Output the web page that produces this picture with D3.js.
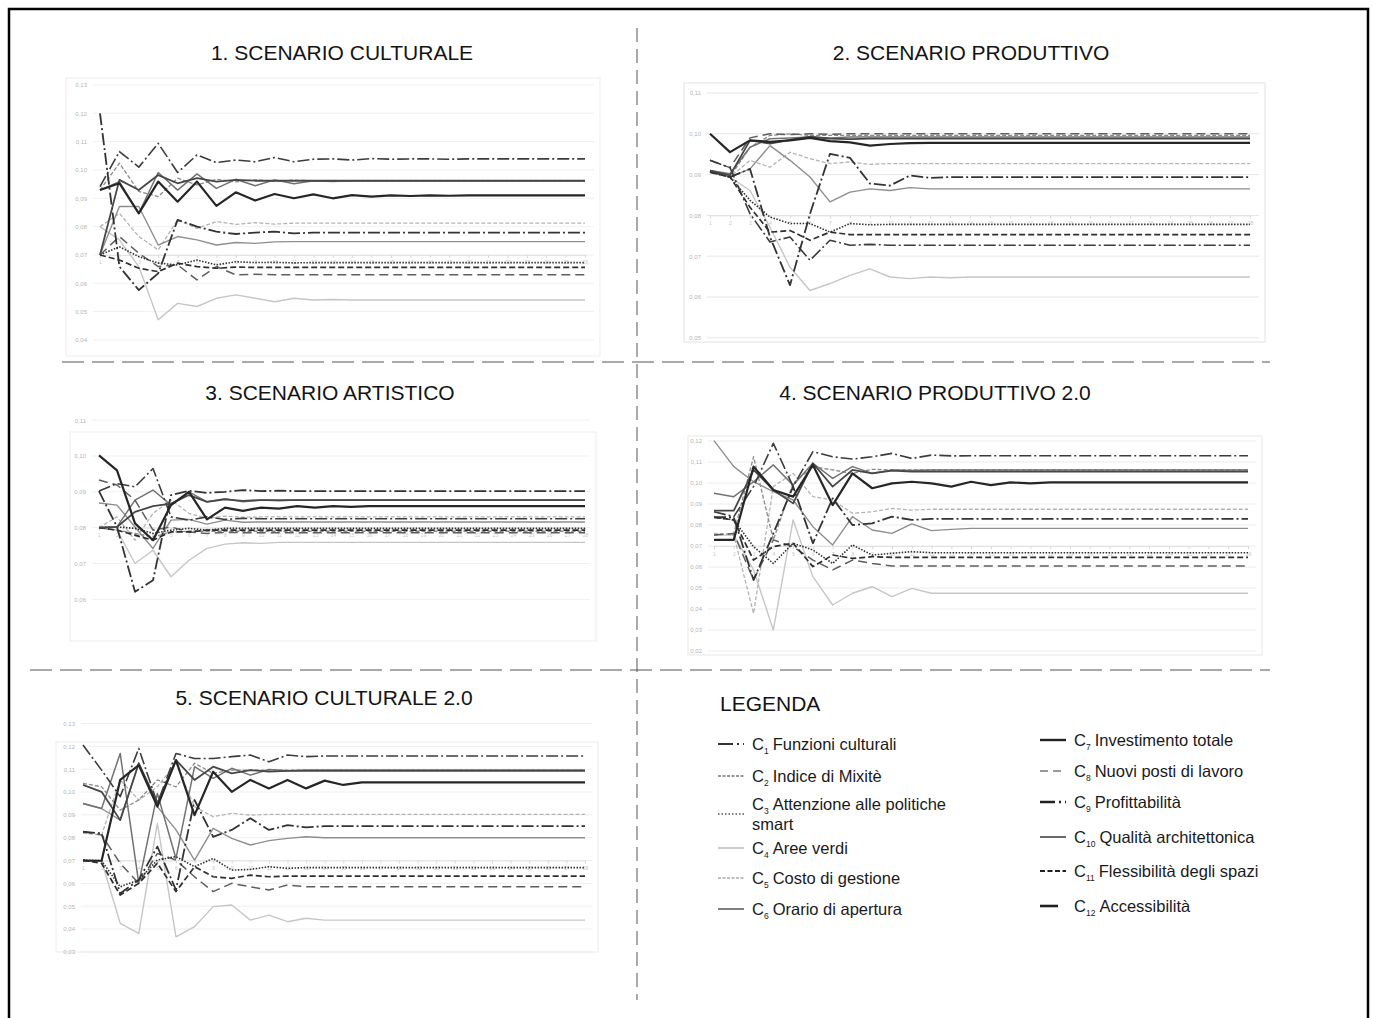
<!DOCTYPE html>
<meta charset="utf-8">
<style>
    body { margin: 0; background: #fff; }
    svg { font-family: "Liberation Sans", Arial, sans-serif; }
    .ylab text { fill: #b5b5b5; font-size: 6px; }
    .ylab path, .ylab line { display: none; }
    .xlab text { fill: #c8c8c8; font-size: 5px; }
    .xlab line { stroke: #d8d8d8; }
    .xlab path { stroke: #e2e2e2; }
</style>
<svg width="1373" height="1018"></svg>
<script src="https://d3js.org/d3.v7.min.js"></script>
<script>
    // criteri (legenda)
    var criteri = ["Funzioni culturali", "Indice di Mixitè", "Attenzione alle politiche smart", "Aree verdi",
        "Costo di gestione", "Orario di apertura", "Investimento totale", "Nuovi posti di lavoro",
        "Profittabilità", "Qualità architettonica", "Flessibilità degli spazi", "Accessibilità"];

    var titoli = ["1. SCENARIO CULTURALE", "2. SCENARIO PRODUTTIVO", "3. SCENARIO ARTISTICO",
        "4. SCENARIO PRODUTTIVO 2.0", "5. SCENARIO CULTURALE 2.0"];

    // valori per iterazione, C1..C12
    var scenario1 = [
        [0.0941, 0.1065, 0.1010, 0.1094, 0.0991, 0.1053, 0.1026, 0.1035, 0.1029, 0.1044, 0.1029, 0.1038, 0.1039, 0.1035, 0.1040, 0.1038, 0.1039, 0.1039, 0.1038, 0.1039, 0.1039, 0.1039, 0.1039, 0.1039, 0.1039, 0.1039],
        [0.0929, 0.1024, 0.0924, 0.0906, 0.0971, 0.0947, 0.0967, 0.0958, 0.0965, 0.0960, 0.0964, 0.0962, 0.0962, 0.0962, 0.0962, 0.0962, 0.0962, 0.0962, 0.0962, 0.0962, 0.0962, 0.0962, 0.0962, 0.0962, 0.0962, 0.0962],
        [0.0700, 0.0729, 0.0694, 0.0671, 0.0665, 0.0682, 0.0665, 0.0676, 0.0673, 0.0674, 0.0672, 0.0673, 0.0673, 0.0673, 0.0673, 0.0673, 0.0673, 0.0673, 0.0673, 0.0673, 0.0673, 0.0673, 0.0673, 0.0673, 0.0673, 0.0673],
        [0.0800, 0.0753, 0.0659, 0.0471, 0.0529, 0.0518, 0.0547, 0.0559, 0.0547, 0.0535, 0.0547, 0.0541, 0.0543, 0.0541, 0.0541, 0.0541, 0.0541, 0.0541, 0.0541, 0.0541, 0.0541, 0.0541, 0.0541, 0.0541, 0.0541, 0.0541],
        [0.0800, 0.0847, 0.0765, 0.0718, 0.0824, 0.0794, 0.0818, 0.0808, 0.0814, 0.0809, 0.0812, 0.0812, 0.0812, 0.0812, 0.0812, 0.0812, 0.0812, 0.0812, 0.0812, 0.0812, 0.0812, 0.0812, 0.0812, 0.0812, 0.0812, 0.0812],
        [0.0700, 0.0871, 0.0871, 0.0735, 0.0765, 0.0753, 0.0735, 0.0744, 0.0741, 0.0746, 0.0747, 0.0747, 0.0747, 0.0747, 0.0747, 0.0747, 0.0747, 0.0747, 0.0747, 0.0747, 0.0747, 0.0747, 0.0747, 0.0747, 0.0747, 0.0747],
        [0.0929, 0.0953, 0.0847, 0.0959, 0.0888, 0.0959, 0.0873, 0.0921, 0.0892, 0.0915, 0.0900, 0.0914, 0.0900, 0.0911, 0.0906, 0.0910, 0.0908, 0.0910, 0.0909, 0.0910, 0.0910, 0.0910, 0.0910, 0.0910, 0.0910, 0.0910],
        [0.0700, 0.0765, 0.0706, 0.0659, 0.0665, 0.0612, 0.0659, 0.0630, 0.0632, 0.0630, 0.0630, 0.0630, 0.0630, 0.0630, 0.0630, 0.0630, 0.0630, 0.0630, 0.0630, 0.0630, 0.0630, 0.0630, 0.0630, 0.0630, 0.0630, 0.0630],
        [0.1200, 0.0659, 0.0576, 0.0635, 0.0824, 0.0800, 0.0782, 0.0774, 0.0779, 0.0782, 0.0776, 0.0779, 0.0779, 0.0779, 0.0779, 0.0779, 0.0779, 0.0779, 0.0779, 0.0779, 0.0779, 0.0779, 0.0779, 0.0779, 0.0779, 0.0779],
        [0.0929, 0.0959, 0.0847, 0.0991, 0.0929, 0.0986, 0.0935, 0.0967, 0.0944, 0.0965, 0.0951, 0.0962, 0.0959, 0.0962, 0.0962, 0.0962, 0.0962, 0.0962, 0.0962, 0.0962, 0.0962, 0.0962, 0.0962, 0.0962, 0.0962, 0.0962],
        [0.0700, 0.0682, 0.0653, 0.0641, 0.0671, 0.0659, 0.0653, 0.0657, 0.0656, 0.0656, 0.0656, 0.0656, 0.0656, 0.0656, 0.0656, 0.0656, 0.0656, 0.0656, 0.0656, 0.0656, 0.0656, 0.0656, 0.0656, 0.0656, 0.0656, 0.0656],
        [0.0700, 0.0965, 0.0929, 0.0982, 0.0953, 0.0971, 0.0959, 0.0965, 0.0962, 0.0962, 0.0962, 0.0962, 0.0962, 0.0962, 0.0962, 0.0962, 0.0962, 0.0962, 0.0962, 0.0962, 0.0962, 0.0962, 0.0962, 0.0962, 0.0962, 0.0962]
    ];

    var scenario2 = [
        [0.0935, 0.0917, 0.0804, 0.0735, 0.0747, 0.0690, 0.0739, 0.0727, 0.0729, 0.0727, 0.0727, 0.0727, 0.0727, 0.0727, 0.0727, 0.0727, 0.0727, 0.0727, 0.0727, 0.0727, 0.0727, 0.0727, 0.0727, 0.0727, 0.0727, 0.0727, 0.0727, 0.0727],
        [0.0906, 0.0894, 0.0967, 0.0996, 0.1000, 0.0996, 0.0996, 0.0996, 0.0996, 0.0996, 0.0996, 0.0996, 0.0996, 0.0996, 0.0996, 0.0996, 0.0996, 0.0996, 0.0996, 0.0996, 0.0996, 0.0996, 0.0996, 0.0996, 0.0996, 0.0996, 0.0996, 0.0996],
        [0.0906, 0.0894, 0.0837, 0.0796, 0.0780, 0.0780, 0.0759, 0.0780, 0.0777, 0.0778, 0.0778, 0.0778, 0.0778, 0.0778, 0.0778, 0.0778, 0.0778, 0.0778, 0.0778, 0.0778, 0.0778, 0.0778, 0.0778, 0.0778, 0.0778, 0.0778, 0.0778, 0.0778],
        [0.0906, 0.0894, 0.0861, 0.0771, 0.0673, 0.0616, 0.0633, 0.0653, 0.0669, 0.0649, 0.0645, 0.0649, 0.0647, 0.0649, 0.0649, 0.0649, 0.0649, 0.0649, 0.0649, 0.0649, 0.0649, 0.0649, 0.0649, 0.0649, 0.0649, 0.0649, 0.0649, 0.0649],
        [0.0906, 0.0894, 0.0935, 0.0918, 0.0955, 0.0939, 0.0927, 0.0931, 0.0925, 0.0927, 0.0927, 0.0927, 0.0927, 0.0927, 0.0927, 0.0927, 0.0927, 0.0927, 0.0927, 0.0927, 0.0927, 0.0927, 0.0927, 0.0927, 0.0927, 0.0927, 0.0927, 0.0927],
        [0.0906, 0.0894, 0.0914, 0.0971, 0.0935, 0.0894, 0.0833, 0.0857, 0.0865, 0.0861, 0.0868, 0.0865, 0.0865, 0.0865, 0.0865, 0.0865, 0.0865, 0.0865, 0.0865, 0.0865, 0.0865, 0.0865, 0.0865, 0.0865, 0.0865, 0.0865, 0.0865, 0.0865],
        [0.1000, 0.0955, 0.0984, 0.0980, 0.0984, 0.0990, 0.0982, 0.0979, 0.0971, 0.0975, 0.0977, 0.0978, 0.0978, 0.0978, 0.0978, 0.0978, 0.0978, 0.0978, 0.0978, 0.0978, 0.0978, 0.0978, 0.0978, 0.0978, 0.0978, 0.0978, 0.0978, 0.0978],
        [0.0935, 0.0917, 0.0990, 0.1000, 0.0998, 0.1000, 0.0999, 0.1000, 0.1000, 0.1000, 0.1000, 0.1000, 0.1000, 0.1000, 0.1000, 0.1000, 0.1000, 0.1000, 0.1000, 0.1000, 0.1000, 0.1000, 0.1000, 0.1000, 0.1000, 0.1000, 0.1000, 0.1000],
        [0.0910, 0.0894, 0.0914, 0.0747, 0.0629, 0.0804, 0.0951, 0.0941, 0.0878, 0.0873, 0.0898, 0.0892, 0.0894, 0.0894, 0.0894, 0.0894, 0.0894, 0.0894, 0.0894, 0.0894, 0.0894, 0.0894, 0.0894, 0.0894, 0.0894, 0.0894, 0.0894, 0.0894],
        [0.0910, 0.0902, 0.0967, 0.0988, 0.0990, 0.0992, 0.0990, 0.0992, 0.0992, 0.0992, 0.0992, 0.0992, 0.0992, 0.0992, 0.0992, 0.0992, 0.0992, 0.0992, 0.0992, 0.0992, 0.0992, 0.0992, 0.0992, 0.0992, 0.0992, 0.0992, 0.0992, 0.0992],
        [0.0906, 0.0894, 0.0820, 0.0759, 0.0763, 0.0739, 0.0759, 0.0753, 0.0753, 0.0753, 0.0753, 0.0753, 0.0753, 0.0753, 0.0753, 0.0753, 0.0753, 0.0753, 0.0753, 0.0753, 0.0753, 0.0753, 0.0753, 0.0753, 0.0753, 0.0753, 0.0753, 0.0753],
        [0.0910, 0.0898, 0.0984, 0.0976, 0.0985, 0.0993, 0.0988, 0.0987, 0.0988, 0.0988, 0.0988, 0.0988, 0.0988, 0.0988, 0.0988, 0.0988, 0.0988, 0.0988, 0.0988, 0.0988, 0.0988, 0.0988, 0.0988, 0.0988, 0.0988, 0.0988, 0.0988, 0.0988]
    ];

    var scenario3 = [
        [0.0902, 0.0923, 0.0914, 0.0965, 0.0830, 0.0821, 0.0830, 0.0823, 0.0826, 0.0825, 0.0825, 0.0825, 0.0825, 0.0825, 0.0825, 0.0825, 0.0825, 0.0825, 0.0825, 0.0825, 0.0825, 0.0825, 0.0825, 0.0825, 0.0825, 0.0825, 0.0825, 0.0825],
        [0.0800, 0.0793, 0.0784, 0.0774, 0.0788, 0.0790, 0.0790, 0.0790, 0.0790, 0.0790, 0.0790, 0.0790, 0.0790, 0.0790, 0.0790, 0.0790, 0.0790, 0.0790, 0.0790, 0.0790, 0.0790, 0.0790, 0.0790, 0.0790, 0.0790, 0.0790, 0.0790, 0.0790],
        [0.0800, 0.0802, 0.0798, 0.0784, 0.0793, 0.0798, 0.0793, 0.0798, 0.0798, 0.0798, 0.0798, 0.0798, 0.0798, 0.0798, 0.0798, 0.0798, 0.0798, 0.0798, 0.0798, 0.0798, 0.0798, 0.0798, 0.0798, 0.0798, 0.0798, 0.0798, 0.0798, 0.0798],
        [0.0800, 0.0793, 0.0700, 0.0737, 0.0663, 0.0709, 0.0742, 0.0754, 0.0758, 0.0756, 0.0759, 0.0759, 0.0759, 0.0759, 0.0759, 0.0759, 0.0759, 0.0759, 0.0759, 0.0759, 0.0759, 0.0759, 0.0759, 0.0759, 0.0759, 0.0759, 0.0759, 0.0759],
        [0.0800, 0.0830, 0.0765, 0.0840, 0.0877, 0.0840, 0.0826, 0.0832, 0.0829, 0.0830, 0.0830, 0.0830, 0.0830, 0.0830, 0.0830, 0.0830, 0.0830, 0.0830, 0.0830, 0.0830, 0.0830, 0.0830, 0.0830, 0.0830, 0.0830, 0.0830, 0.0830, 0.0830],
        [0.0869, 0.0863, 0.0802, 0.0742, 0.0821, 0.0823, 0.0810, 0.0821, 0.0815, 0.0816, 0.0816, 0.0816, 0.0816, 0.0816, 0.0816, 0.0816, 0.0816, 0.0816, 0.0816, 0.0816, 0.0816, 0.0816, 0.0816, 0.0816, 0.0816, 0.0816, 0.0816, 0.0816],
        [0.1002, 0.0960, 0.0812, 0.0765, 0.0863, 0.0900, 0.0823, 0.0856, 0.0847, 0.0856, 0.0853, 0.0860, 0.0856, 0.0860, 0.0858, 0.0860, 0.0860, 0.0860, 0.0860, 0.0860, 0.0860, 0.0860, 0.0860, 0.0860, 0.0860, 0.0860, 0.0860, 0.0860],
        [0.0933, 0.0919, 0.0877, 0.0793, 0.0802, 0.0788, 0.0784, 0.0787, 0.0786, 0.0786, 0.0786, 0.0786, 0.0786, 0.0786, 0.0786, 0.0786, 0.0786, 0.0786, 0.0786, 0.0786, 0.0786, 0.0786, 0.0786, 0.0786, 0.0786, 0.0786, 0.0786, 0.0786],
        [0.0902, 0.0802, 0.0621, 0.0653, 0.0891, 0.0903, 0.0897, 0.0900, 0.0905, 0.0902, 0.0903, 0.0902, 0.0902, 0.0902, 0.0902, 0.0902, 0.0902, 0.0902, 0.0902, 0.0902, 0.0902, 0.0902, 0.0902, 0.0902, 0.0902, 0.0902, 0.0902, 0.0902],
        [0.0800, 0.0802, 0.0877, 0.0905, 0.0863, 0.0900, 0.0872, 0.0881, 0.0872, 0.0877, 0.0875, 0.0877, 0.0877, 0.0877, 0.0877, 0.0877, 0.0877, 0.0877, 0.0877, 0.0877, 0.0877, 0.0877, 0.0877, 0.0877, 0.0877, 0.0877, 0.0877, 0.0877],
        [0.0800, 0.0793, 0.0779, 0.0765, 0.0788, 0.0788, 0.0793, 0.0793, 0.0793, 0.0793, 0.0793, 0.0793, 0.0793, 0.0793, 0.0793, 0.0793, 0.0793, 0.0793, 0.0793, 0.0793, 0.0793, 0.0793, 0.0793, 0.0793, 0.0793, 0.0793, 0.0793, 0.0793],
        [0.0800, 0.0802, 0.0844, 0.0860, 0.0867, 0.0891, 0.0872, 0.0879, 0.0875, 0.0877, 0.0877, 0.0877, 0.0877, 0.0877, 0.0877, 0.0877, 0.0877, 0.0877, 0.0877, 0.0877, 0.0877, 0.0877, 0.0877, 0.0877, 0.0877, 0.0877, 0.0877, 0.0877]
    ];

    var scenario4 = [
        [0.0863, 0.0840, 0.0983, 0.1189, 0.0983, 0.1149, 0.1125, 0.1114, 0.1125, 0.1141, 0.1117, 0.1133, 0.1129, 0.1130, 0.1130, 0.1130, 0.1130, 0.1130, 0.1130, 0.1130, 0.1130, 0.1130, 0.1130, 0.1130, 0.1130, 0.1130, 0.1130, 0.1130],
        [0.0752, 0.0760, 0.1125, 0.0729, 0.0998, 0.1078, 0.1062, 0.1046, 0.1065, 0.1062, 0.1062, 0.1062, 0.1062, 0.1062, 0.1062, 0.1062, 0.1062, 0.1062, 0.1062, 0.1062, 0.1062, 0.1062, 0.1062, 0.1062, 0.1062, 0.1062, 0.1062, 0.1062],
        [0.0837, 0.0824, 0.0697, 0.0617, 0.0713, 0.0681, 0.0617, 0.0705, 0.0657, 0.0665, 0.0673, 0.0668, 0.0668, 0.0668, 0.0668, 0.0668, 0.0668, 0.0668, 0.0668, 0.0668, 0.0668, 0.0668, 0.0668, 0.0668, 0.0668, 0.0668, 0.0668, 0.0668],
        [0.0752, 0.0752, 0.0586, 0.0300, 0.0824, 0.0554, 0.0419, 0.0475, 0.0506, 0.0459, 0.0498, 0.0475, 0.0475, 0.0475, 0.0475, 0.0475, 0.0475, 0.0475, 0.0475, 0.0475, 0.0475, 0.0475, 0.0475, 0.0475, 0.0475, 0.0475, 0.0475, 0.0475],
        [0.0760, 0.0752, 0.0379, 0.0983, 0.1046, 0.0935, 0.0919, 0.0856, 0.0863, 0.0879, 0.0871, 0.0875, 0.0875, 0.0875, 0.0875, 0.0875, 0.0875, 0.0875, 0.0875, 0.0875, 0.0875, 0.0875, 0.0875, 0.0875, 0.0875, 0.0875, 0.0875, 0.0875],
        [0.1202, 0.1078, 0.1006, 0.0959, 0.0919, 0.0792, 0.0705, 0.0840, 0.0776, 0.0760, 0.0805, 0.0773, 0.0779, 0.0784, 0.0784, 0.0784, 0.0784, 0.0784, 0.0784, 0.0784, 0.0784, 0.0784, 0.0784, 0.0784, 0.0784, 0.0784, 0.0784, 0.0784],
        [0.0729, 0.0729, 0.1078, 0.0967, 0.0935, 0.1086, 0.0895, 0.1046, 0.0975, 0.0998, 0.1006, 0.0998, 0.0983, 0.1006, 0.0990, 0.1003, 0.0998, 0.1003, 0.1003, 0.1003, 0.1003, 0.1003, 0.1003, 0.1003, 0.1003, 0.1003, 0.1003, 0.1003],
        [0.0752, 0.0760, 0.0538, 0.0729, 0.0697, 0.0633, 0.0586, 0.0633, 0.0617, 0.0605, 0.0605, 0.0605, 0.0605, 0.0605, 0.0605, 0.0605, 0.0605, 0.0605, 0.0605, 0.0605, 0.0605, 0.0605, 0.0605, 0.0605, 0.0605, 0.0605, 0.0605, 0.0605],
        [0.0837, 0.0837, 0.0538, 0.0760, 0.0983, 0.0713, 0.0927, 0.0800, 0.0808, 0.0840, 0.0824, 0.0829, 0.0829, 0.0829, 0.0829, 0.0829, 0.0829, 0.0829, 0.0829, 0.0829, 0.0829, 0.0829, 0.0829, 0.0829, 0.0829, 0.0829, 0.0829, 0.0829],
        [0.0951, 0.0935, 0.1006, 0.1086, 0.0990, 0.1094, 0.1022, 0.1078, 0.1046, 0.1062, 0.1059, 0.1062, 0.1062, 0.1062, 0.1062, 0.1062, 0.1062, 0.1062, 0.1062, 0.1062, 0.1062, 0.1062, 0.1062, 0.1062, 0.1062, 0.1062, 0.1062, 0.1062],
        [0.0837, 0.0824, 0.0633, 0.0697, 0.0713, 0.0602, 0.0657, 0.0641, 0.0649, 0.0646, 0.0646, 0.0646, 0.0646, 0.0646, 0.0646, 0.0646, 0.0646, 0.0646, 0.0646, 0.0646, 0.0646, 0.0646, 0.0646, 0.0646, 0.0646, 0.0646, 0.0646, 0.0646],
        [0.0868, 0.0868, 0.1062, 0.0967, 0.0903, 0.1094, 0.0983, 0.1062, 0.1046, 0.1059, 0.1054, 0.1054, 0.1054, 0.1054, 0.1054, 0.1054, 0.1054, 0.1054, 0.1054, 0.1054, 0.1054, 0.1054, 0.1054, 0.1054, 0.1054, 0.1054, 0.1054, 0.1054]
    ];

    var scenario5 = [
        [0.1206, 0.1096, 0.0980, 0.1191, 0.0950, 0.1169, 0.1147, 0.1147, 0.1155, 0.1162, 0.1133, 0.1162, 0.1155, 0.1158, 0.1158, 0.1158, 0.1158, 0.1158, 0.1158, 0.1158, 0.1158, 0.1158, 0.1158, 0.1158, 0.1158, 0.1158, 0.1158, 0.1158],
        [0.1038, 0.1023, 0.0921, 0.0965, 0.1053, 0.1023, 0.1126, 0.1082, 0.1096, 0.1096, 0.1096, 0.1096, 0.1096, 0.1096, 0.1096, 0.1096, 0.1096, 0.1096, 0.1096, 0.1096, 0.1096, 0.1096, 0.1096, 0.1096, 0.1096, 0.1096, 0.1096, 0.1096],
        [0.0702, 0.0699, 0.0585, 0.0615, 0.0702, 0.0717, 0.0673, 0.0709, 0.0658, 0.0661, 0.0673, 0.0666, 0.0669, 0.0669, 0.0669, 0.0669, 0.0669, 0.0669, 0.0669, 0.0669, 0.0669, 0.0669, 0.0669, 0.0669, 0.0669, 0.0669, 0.0669, 0.0669],
        [0.0702, 0.0699, 0.0425, 0.0381, 0.0863, 0.0366, 0.0410, 0.0498, 0.0505, 0.0439, 0.0461, 0.0432, 0.0447, 0.0439, 0.0439, 0.0439, 0.0439, 0.0439, 0.0439, 0.0439, 0.0439, 0.0439, 0.0439, 0.0439, 0.0439, 0.0439, 0.0439, 0.0439],
        [0.0819, 0.0812, 0.1053, 0.0965, 0.1023, 0.1126, 0.0936, 0.0892, 0.0907, 0.0899, 0.0902, 0.0902, 0.0902, 0.0902, 0.0902, 0.0902, 0.0902, 0.0902, 0.0902, 0.0902, 0.0902, 0.0902, 0.0902, 0.0902, 0.0902, 0.0902, 0.0902, 0.0902],
        [0.0950, 0.0928, 0.0877, 0.1126, 0.0936, 0.0834, 0.0702, 0.0841, 0.0797, 0.0768, 0.0787, 0.0797, 0.0804, 0.0800, 0.0800, 0.0800, 0.0800, 0.0800, 0.0800, 0.0800, 0.0800, 0.0800, 0.0800, 0.0800, 0.0800, 0.0800, 0.0800, 0.0800],
        [0.0699, 0.0699, 0.1053, 0.1118, 0.0936, 0.1140, 0.0899, 0.1089, 0.1001, 0.1053, 0.1016, 0.1053, 0.1016, 0.1050, 0.1031, 0.1042, 0.1042, 0.1042, 0.1042, 0.1042, 0.1042, 0.1042, 0.1042, 0.1042, 0.1042, 0.1042, 0.1042, 0.1042],
        [0.0826, 0.0812, 0.0688, 0.0600, 0.0731, 0.0702, 0.0629, 0.0564, 0.0600, 0.0585, 0.0571, 0.0593, 0.0585, 0.0585, 0.0585, 0.0585, 0.0585, 0.0585, 0.0585, 0.0585, 0.0585, 0.0585, 0.0585, 0.0585, 0.0585, 0.0585, 0.0585, 0.0585],
        [0.0826, 0.0819, 0.0556, 0.0615, 0.0761, 0.0571, 0.0965, 0.0804, 0.0834, 0.0885, 0.0834, 0.0855, 0.0845, 0.0851, 0.0851, 0.0851, 0.0851, 0.0851, 0.0851, 0.0851, 0.0851, 0.0851, 0.0851, 0.0851, 0.0851, 0.0851, 0.0851, 0.0851],
        [0.0950, 0.0928, 0.1169, 0.0600, 0.0994, 0.0709, 0.1111, 0.1060, 0.1104, 0.1074, 0.1099, 0.1093, 0.1096, 0.1096, 0.1096, 0.1096, 0.1096, 0.1096, 0.1096, 0.1096, 0.1096, 0.1096, 0.1096, 0.1096, 0.1096, 0.1096, 0.1096, 0.1096],
        [0.0702, 0.0688, 0.0549, 0.0600, 0.0688, 0.0564, 0.0673, 0.0629, 0.0622, 0.0636, 0.0629, 0.0632, 0.0632, 0.0632, 0.0632, 0.0632, 0.0632, 0.0632, 0.0632, 0.0632, 0.0632, 0.0632, 0.0632, 0.0632, 0.0632, 0.0632, 0.0632, 0.0632],
        [0.1031, 0.1001, 0.0877, 0.1126, 0.0950, 0.1140, 0.1053, 0.1111, 0.1082, 0.1096, 0.1089, 0.1093, 0.1093, 0.1093, 0.1093, 0.1093, 0.1093, 0.1093, 0.1093, 0.1093, 0.1093, 0.1093, 0.1093, 0.1093, 0.1093, 0.1093, 0.1093, 0.1093]
    ];

    // tick dell'asse y per pannello
    var ticks1 = [0.04, 0.05, 0.06, 0.07, 0.08, 0.09, 0.10, 0.11, 0.12, 0.13];
    var ticks2 = [0.05, 0.06, 0.07, 0.08, 0.09, 0.10, 0.11];
    var ticks3 = [0.06, 0.07, 0.08, 0.09, 0.10, 0.11];
    var ticks4 = [0.02, 0.03, 0.04, 0.05, 0.06, 0.07, 0.08, 0.09, 0.10, 0.11, 0.12];
    var ticks5 = [0.03, 0.04, 0.05, 0.06, 0.07, 0.08, 0.09, 0.10, 0.11, 0.12, 0.13];

    // stili linee C1..C12
    var stili = [
        { c: "#3c3c3c", w: 1.6, d: "12,3,2,3" },
        { c: "#8a8a8a", w: 1.3, d: "4,2" },
        { c: "#333333", w: 1.6, d: "1.5,1.5" },
        { c: "#c6c6c6", w: 1.4, d: null },
        { c: "#b4b4b4", w: 1.3, d: "4,2" },
        { c: "#8e8e8e", w: 1.4, d: null },
        { c: "#262626", w: 2.2, d: null },
        { c: "#5e5e5e", w: 1.5, d: "9,5" },
        { c: "#333333", w: 1.8, d: "12,3,2,3" },
        { c: "#727272", w: 1.5, d: null },
        { c: "#2e2e2e", w: 1.7, d: "6,3" },
        { c: "#474747", w: 1.8, d: null }
    ];
    var ordine = [3, 4, 1, 5, 9, 7, 0, 2, 10, 8, 11, 6];

    var pannelli = [
        { serie: scenario1, ticks: ticks1, x0: 100, x1: 585, ref: 0.12, yRef: 113.3, passo: 28.33, ax: 89, box: [66, 78, 600, 356], asse: 0.07, tx: 342, ty: 52, grid: "#f1f1f1" },
        { serie: scenario2, ticks: ticks2, x0: 710, x1: 1250, ref: 0.11, yRef: 93, passo: 40.8, ax: 703, box: [684, 83, 1265, 342], asse: 0.08, tx: 971, ty: 52, grid: "#e6e6e6" },
        { serie: scenario3, ticks: ticks3, x0: 99, x1: 585, ref: 0.10, yRef: 456, passo: 35.83, ax: 88, box: [70, 432, 596, 641], asse: 0.08, tx: 330, ty: 392, grid: "#f1f1f1" },
        { serie: scenario4, ticks: ticks4, x0: 714, x1: 1248, ref: 0.12, yRef: 441, passo: 21, ax: 704, box: [688, 436, 1262, 655], asse: 0.07, tx: 935, ty: 392, grid: "#ececec" },
        { serie: scenario5, ticks: ticks5, x0: 83, x1: 585, ref: 0.08, yRef: 837.7, passo: 22.83, ax: 77, box: [56, 742, 598, 952], asse: 0.07, tx: 324, ty: 697, grid: "#eeeeee" }
    ];

    var svg = d3.select("svg");
    var fmt = function (v) { return d3.format(".2f")(v).replace(".", ","); };

    pannelli.forEach(function (p, k) {
        var n = p.serie[0].length;
        var x = d3.scaleLinear().domain([0, n - 1]).range([p.x0, p.x1]);
        var y = d3.scaleLinear().domain([p.ref, p.ref - 0.01]).range([p.yRef, p.yRef + p.passo]);
        var g = svg.append("g");

        g.append("rect")
            .attr("x", p.box[0]).attr("y", p.box[1])
            .attr("width", p.box[2] - p.box[0]).attr("height", p.box[3] - p.box[1])
            .attr("fill", "none").attr("stroke", p.grid).attr("stroke-width", 1.2);

        g.selectAll("line.grid").data(p.ticks).enter().append("line")
            .attr("x1", p.ax + 4).attr("x2", p.box[2] - 6)
            .attr("y1", function (d) { return y(d); }).attr("y2", function (d) { return y(d); })
            .attr("stroke", p.grid).attr("stroke-width", 1);

        g.append("g").attr("class", "ylab")
            .attr("transform", "translate(" + p.ax + ",0)")
            .call(d3.axisLeft(y).tickValues(p.ticks).tickSize(0).tickPadding(2).tickFormat(fmt));

        g.append("g").attr("class", "xlab")
            .attr("transform", "translate(0," + y(p.asse) + ")")
            .call(d3.axisBottom(x).ticks(n).tickSize(3).tickFormat(function (d) { return d + 1; }));

        var line = d3.line()
            .x(function (d, i) { return x(i); })
            .y(function (d) { return y(d); });

        ordine.forEach(function (c) {
            var s = stili[c];
            g.append("path")
                .datum(p.serie[c])
                .attr("d", line)
                .attr("fill", "none")
                .attr("stroke", s.c)
                .attr("stroke-width", s.w)
                .attr("stroke-dasharray", s.d)
                .attr("stroke-linejoin", "round");
        });

        svg.append("text")
            .attr("x", p.tx).attr("y", p.ty + 7.5)
            .attr("text-anchor", "middle")
            .attr("font-size", 21)
            .attr("fill", "#141414")
            .text(titoli[k]);
    });

    // separatori tratteggiati
    svg.append("line").attr("x1", 637).attr("x2", 637).attr("y1", 28).attr("y2", 1000)
        .attr("stroke", "#555").attr("stroke-width", 1).attr("stroke-dasharray", "14,7");
    svg.append("line").attr("x1", 62).attr("x2", 1270).attr("y1", 362).attr("y2", 362)
        .attr("stroke", "#555").attr("stroke-width", 1).attr("stroke-dasharray", "22,8");
    svg.append("line").attr("x1", 30).attr("x2", 1270).attr("y1", 670).attr("y2", 670)
        .attr("stroke", "#555").attr("stroke-width", 1).attr("stroke-dasharray", "22,8");

    // cornice
    svg.append("rect").attr("x", 9).attr("y", 9).attr("width", 1359).attr("height", 1030)
        .attr("fill", "none").attr("stroke", "#000").attr("stroke-width", 2.5);

    // legenda
    svg.append("text").attr("x", 720).attr("y", 711).attr("font-size", 21).attr("fill", "#141414").text("LEGENDA");

    var posLeg = [
        { x: 718, y: 744 }, { x: 718, y: 776 }, { x: 718, y: 804 }, { x: 718, y: 848 }, { x: 718, y: 878 }, { x: 718, y: 909 },
        { x: 1040, y: 740 }, { x: 1040, y: 771 }, { x: 1040, y: 802 }, { x: 1040, y: 837 }, { x: 1040, y: 871 }, { x: 1040, y: 906 }
    ];
    var campioni = [
        { d: "15,4,2,4", c: "#333", w: 2 }, { d: "3,1.5", c: "#777", w: 1.4 }, { d: "1.5,2", c: "#555", w: 1.6 },
        { d: null, c: "#bbb", w: 1.5 }, { d: "3,1.5", c: "#aaa", w: 1.4 }, { d: null, c: "#555", w: 1.5 },
        { d: null, c: "#222", w: 2.4 }, { d: "8,5", c: "#777", w: 1.5 }, { d: "15,4,2,4", c: "#222", w: 2.4 },
        { d: null, c: "#444", w: 1.6 }, { d: "5,2.5", c: "#222", w: 2 }, { d: null, c: "#222", w: 2.6 }
    ];

    criteri.forEach(function (nome, i) {
        var p = posLeg[i], s = campioni[i];
        var ly = i === 2 ? p.y + 10 : p.y;
        var len = i === 11 ? 18 : 26;
        svg.append("line")
            .attr("x1", p.x).attr("x2", p.x + len).attr("y1", ly).attr("y2", ly)
            .attr("stroke", s.c).attr("stroke-width", s.w).attr("stroke-dasharray", s.d);

        var t = svg.append("text")
            .attr("x", p.x + 34).attr("y", p.y + 5.5)
            .attr("font-size", 16.5).attr("fill", "#1a1a1a");
        t.append("tspan").text("C");
        t.append("tspan").attr("font-size", 8.5).attr("dy", 4).text(i + 1);
        var testo = i === 2 ? "Attenzione alle politiche" : nome;
        t.append("tspan").attr("dy", -4).attr("dx", 4).text(testo);
        if (i === 2) {
            svg.append("text").attr("x", p.x + 34).attr("y", p.y + 26)
                .attr("font-size", 16.5).attr("fill", "#1a1a1a").text("smart");
        }
    });
</script>
